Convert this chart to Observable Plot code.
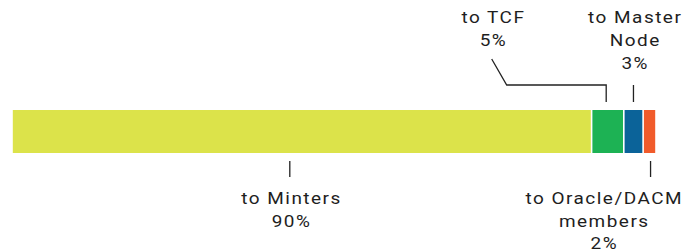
<!DOCTYPE html>
<html>
<head>
<meta charset="utf-8">
<script src="https://cdn.jsdelivr.net/npm/d3@7"></script>
<script src="https://cdn.jsdelivr.net/npm/@observablehq/plot@0.6"></script>
<style>
  html, body { margin: 0; padding: 0; background: #fff; }
</style>
</head>
<body>
<div id="chart"></div>
<script>
// ---- data ----
const categories = ["to Minters", "to TCF", "to Master Node", "to Oracle/DACM members"];
const values = [90, 5, 3, 2];
const labels = ["to Minters\n90%", "to TCF\n5%", "to Master\nNode\n3%", "to Oracle/DACM\nmembers\n2%"];

// ---- styles / layout (not data) ----
const colors = ["#dce34a", "#1db254", "#0b6399", "#f15b2b"];
const labelSide = ["bottom", "top", "top", "bottom"];
const labelDx = [-12, -116, 0, -47];
const tickDx = [-12, 0, 0, 1];
const textStretch = 1.15;

const ends = d3.cumsum(values);
const rows = categories.map((c, i) => ({
  category: c,
  value: values[i],
  start: ends[i] - values[i],
  end: ends[i],
  mid: ends[i] - values[i] / 2,
  label: labels[i],
  side: labelSide[i],
  dx: labelDx[i],
  tdx: tickDx[i],
  elbow: i === 1
}));

function leaders(index, scales, channels, dims) {
  const g = d3.create("svg:g")
    .attr("fill", "none")
    .attr("stroke", "#222")
    .attr("stroke-width", 1.3);
  const top = dims.marginTop;
  const bottom = dims.height - dims.marginBottom;
  for (const d of rows) {
    const x = scales.x(d.mid) + d.tdx;
    if (d.side === "bottom") {
      g.append("line").attr("x1", x).attr("x2", x)
        .attr("y1", bottom + 8).attr("y2", bottom + 24);
    } else if (d.elbow) {
      g.append("path").attr("d",
        `M${x - 1.5},${top - 8}V${top - 25}H${x - 101}L${x + d.dx},${top - 51}`);
    } else {
      g.append("line").attr("x1", x).attr("x2", x)
        .attr("y1", top - 8).attr("y2", top - 25);
    }
  }
  return g.node();
}

const textMarks = rows.map(d => Plot.text([d], {
  x: "mid",
  text: "label",
  dx: d.dx + 1.2,
  dy: d.side === "top" ? -103.6 : 35.3,
  frameAnchor: d.side,
  lineAnchor: "top",
  lineHeight: d.side === "top" ? 1.394 : 1.34,
  fontSize: 16.5,
  fontFamily: "Roboto",
  fill: "#1e1e1e"
}));

const chart = Plot.plot({
  width: 696,
  height: 252,
  marginTop: 110,
  marginBottom: 99,
  marginLeft: 12,
  marginRight: 40,
  style: { fontFamily: "Roboto", letterSpacing: "1.3px", background: "#fff" },
  x: { domain: [0, 100], axis: null },
  color: { domain: categories, range: colors },
  marks: [
    Plot.barX(rows, { x1: "start", x2: "end", fill: "category", insetLeft: 0.8, insetRight: 0.8 }),
    leaders,
    ...textMarks
  ]
});

// widen the label glyphs slightly, as in the reference typography
chart.querySelectorAll("text").forEach(t => {
  const tr = t.getAttribute("transform");
  if (tr) {
    t.setAttribute("transform", tr + ` scale(${textStretch},1)`);
  } else {
    const x = +(t.getAttribute("x") || 0), y = +(t.getAttribute("y") || 0);
    t.setAttribute("x", 0); t.setAttribute("y", 0);
    t.setAttribute("transform", `translate(${x},${y}) scale(${textStretch},1)`);
  }
});

document.getElementById("chart").appendChild(chart);
</script>
</body>
</html>
